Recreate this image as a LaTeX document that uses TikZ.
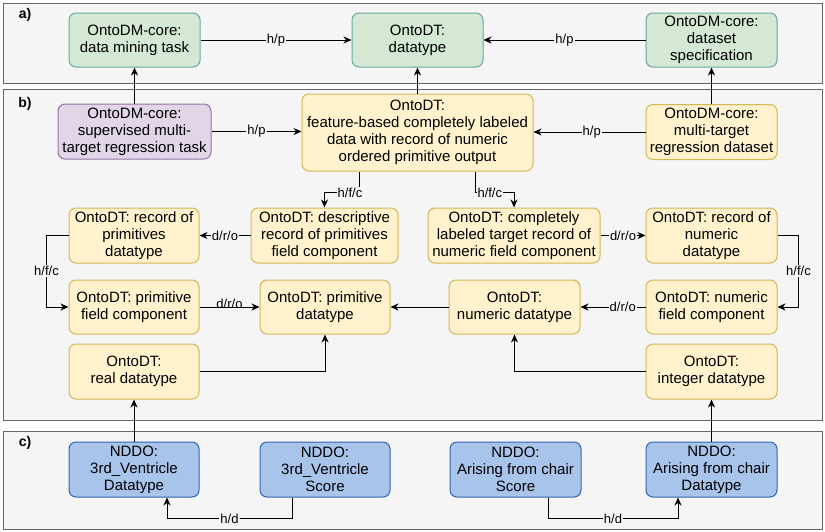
\documentclass[tikz,border=0pt]{standalone}
\usepackage{fontspec}
\setmainfont{Liberation Sans}
\usetikzlibrary{arrows.meta}

\definecolor{panelfill}{HTML}{F5F5F5}
\definecolor{panelline}{HTML}{666666}
\definecolor{greenfill}{HTML}{D5E8D4}
\definecolor{greenline}{HTML}{67AB9F}
\definecolor{yellowfill}{HTML}{FFF2CC}
\definecolor{yellowline}{HTML}{D6B656}
\definecolor{purplefill}{HTML}{E1D5E7}
\definecolor{purpleline}{HTML}{9673A6}
\definecolor{bluefill}{HTML}{A9C4EB}
\definecolor{blueline}{HTML}{2F64B4}

\tikzset{
  panel/.style={fill=panelfill, draw=panelline, line width=1pt},
  tag/.style={font=\fontsize{14}{16}\selectfont\bfseries},
  box/.style={rounded corners=7pt, line width=1pt, align=center, inner sep=0pt,
              minimum width=131pt, minimum height=54pt,
              font=\fontsize{15}{17}\selectfont},
  gbox/.style={box, fill=greenfill, draw=greenline},
  ybox/.style={box, fill=yellowfill, draw=yellowline},
  pbox/.style={box, fill=purplefill, draw=purpleline},
  bbox/.style={box, fill=bluefill, draw=blueline},
  arr/.style={draw=black, line width=1pt, -{Stealth[length=8pt, width=7pt, inset=2.5pt]}},
  lbl/.style={fill=panelfill, inner sep=1pt, font=\fontsize{13}{15}\selectfont}
}

\begin{document}
\begin{tikzpicture}[x=1pt, y=-1pt]
\useasboundingbox (0,0) rectangle (825,531);

% panels
\draw[panel] (3,3) rectangle (822,83);
\draw[panel] (3,89) rectangle (822,420);
\draw[panel] (3,431) rectangle (822,529);
\node[tag] at (25,15) {a)};
\node[tag] at (25,104) {b)};
\node[tag] at (25,443) {c)};

% a) OntoDM-core / OntoDT
\node[gbox] (dmtask) at (134.5,40) {OntoDM-core:\\data mining task};
\node[gbox] (dt) at (417.5,40) {OntoDT:\\datatype};
\node[gbox] (dspec) at (711.5,40) {OntoDM-core:\\dataset\\specification};

% b) top row
\node[pbox, minimum width=153pt, minimum height=55pt] (sup) at (134.5,131.5)
  {OntoDM-core:\\supervised multi-\\target regression task};
\node[ybox, minimum width=231pt, minimum height=77pt] (feat) at (417.5,132.5)
  {OntoDT:\\feature-based completely labeled\\data with record of numeric\\ordered primitive output};
\node[ybox, minimum height=55pt] (mtrd) at (711.5,132)
  {OntoDM-core:\\multi-target\\regression dataset};

% b) record row
\node[ybox, minimum width=130pt, minimum height=55pt] (recprim) at (134,235.5)
  {OntoDT: record of\\primitives\\datatype};
\node[ybox, minimum width=147pt, minimum height=55pt] (desc) at (324.5,235.5)
  {OntoDT: descriptive\\record of primitives\\field component};
\node[ybox, minimum width=172pt, minimum height=55pt] (comp) at (514,235.5)
  {OntoDT: completely\\labeled target record of\\numeric field component};
\node[ybox, minimum height=55pt] (recnum) at (711.5,235.5)
  {OntoDT: record of\\numeric\\datatype};

% b) field / primitive row
\node[ybox, minimum width=130pt] (pfc) at (134,307)
  {OntoDT: primitive\\field component};
\node[ybox, minimum width=130pt] (pdt) at (325,307)
  {OntoDT: primitive\\datatype};
\node[ybox] (ndt) at (514.5,307)
  {OntoDT:\\numeric datatype};
\node[ybox] (nfc) at (711.5,307)
  {OntoDT: numeric\\field component};

% b) concrete datatypes
\node[ybox, minimum width=130pt, minimum height=55pt] (real) at (134,371.5)
  {OntoDT:\\real datatype};
\node[ybox, minimum height=55pt] (integer) at (711.5,371.5)
  {OntoDT:\\integer datatype};

% c) NDDO
\node[bbox, minimum width=130pt, minimum height=55pt] (vdt) at (134,469.5)
  {NDDO:\\3rd\_Ventricle\\Datatype};
\node[bbox, minimum width=130pt, minimum height=55pt] (vsc) at (325,469.5)
  {NDDO:\\3rd\_Ventricle\\Score};
\node[bbox, minimum height=55pt] (asc) at (515.5,469.5)
  {NDDO:\\Arising from chair\\Score};
\node[bbox, minimum height=55pt] (adt) at (711.5,469.5)
  {NDDO:\\Arising from chair\\Datatype};

% connectors in a)
\draw[arr] (dmtask) -- node[lbl] {h/p} (dt);
\draw[arr] (dspec) -- node[lbl] {h/p} (dt);

% b) to a)
\draw[arr] (sup.north) -- (dmtask.south);
\draw[arr] (feat.north) -- (dt.south);
\draw[arr] (mtrd.north) -- (dspec.south);

% connectors in b)
\draw[arr] (sup.east) -- node[lbl] {h/p} (sup.east -| feat.west);
\draw[arr] (mtrd.west) -- node[lbl, pos=0.48] {h/p} (mtrd.west -| feat.east);
\draw[arr] ([xshift=-58.5pt]feat.south) -- ++(0,21) -| node[lbl, pos=0.13] {h/f/c} (desc.north);
\draw[arr] ([xshift=57.5pt]feat.south) -- ++(0,21) -| node[lbl, pos=0.19] {h/f/c} (comp.north);
\draw[arr] (desc) -- node[lbl] {d/r/o} (recprim);
\draw[arr] (recprim.west) -- ++(-22,0) |- node[lbl, pos=0.25] {h/f/c} (pfc.west);
\draw[arr] (pfc) -- node[lbl, yshift=3pt, fill=none] {d/r/o} (pdt);
\draw[arr] (comp) -- node[lbl] {d/r/o} (recnum);
\draw[arr] (recnum.east) -- ++(21,0) |- node[lbl, pos=0.25] {h/f/c} (nfc.east);
\draw[arr] (nfc) -- node[lbl, pos=0.35] {d/r/o} (ndt);
\draw[arr] (ndt.west) -- (pdt.east);
\draw[arr] (real.east) -| (pdt.south);
\draw[arr] (integer.west) -| (ndt.south);

% c) to b)
\draw[arr] (vdt.north) -- (real.south);
\draw[arr] (adt.north) -- (integer.south);

% connectors in c)
\draw[arr] ([xshift=-33pt]vsc.south) -- ++(0,21) -| node[lbl, pos=0.25] {h/d} ([xshift=33pt]vdt.south);
\draw[arr] ([xshift=32.5pt]asc.south) -- ++(0,21) -| node[lbl, pos=0.25] {h/d} ([xshift=-33.5pt]adt.south);
\end{tikzpicture}
\end{document}
